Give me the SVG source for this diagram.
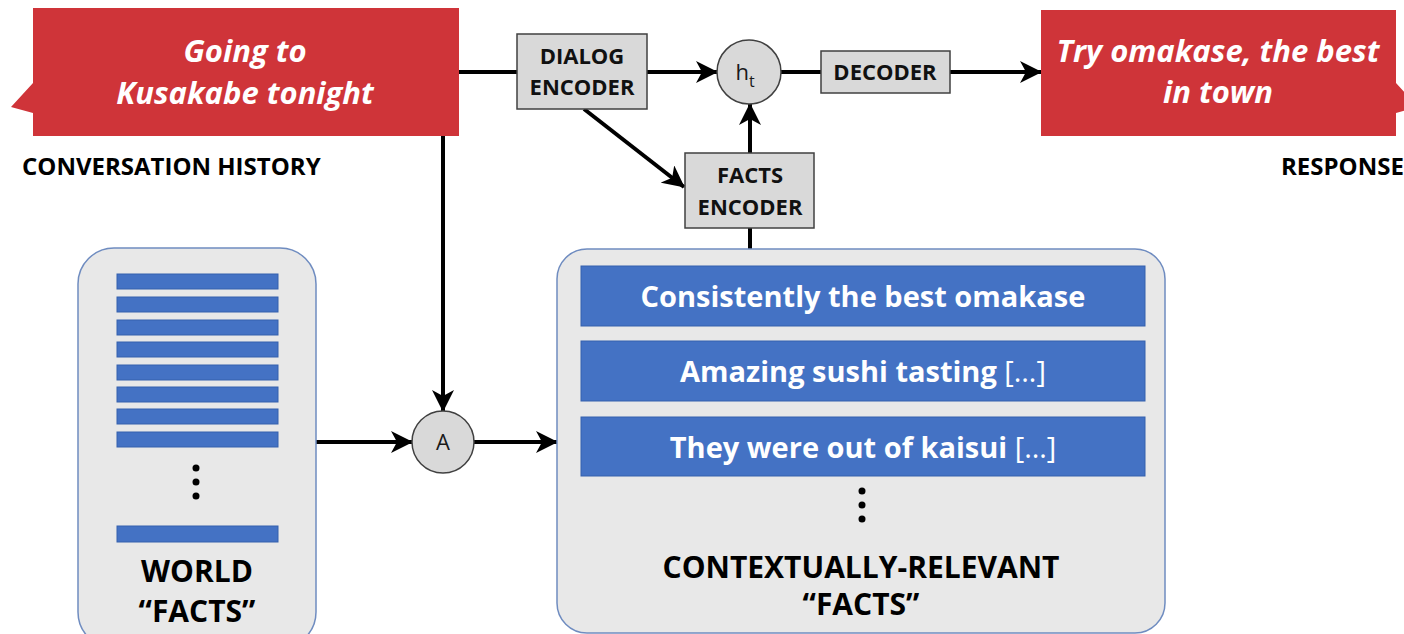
<svg xmlns="http://www.w3.org/2000/svg" width="1404" height="634" viewBox="0 0 1404 634">
  <style>
    .callout { fill: #cf3439; }
    .callout-text { font-family: "Open Sans", Lato, sans-serif; font-weight: bold; font-style: italic; font-size: 31px; fill: #ffffff; text-anchor: middle; }
    .caption { font-family: "Open Sans", Lato, sans-serif; font-weight: bold; font-size: 24px; fill: #000000; }
    .block { fill: #d9d9d9; stroke: #404040; stroke-width: 1.5; }
    .block-text { font-family: "Open Sans", Lato, sans-serif; font-weight: bold; font-size: 22px; fill: #111111; text-anchor: middle; }
    .op { fill: #d9d9d9; stroke: #404040; stroke-width: 1.5; }
    .op-text { font-family: "Open Sans", Lato, sans-serif; font-size: 22px; fill: #1a1a1a; text-anchor: middle; }
    .panel { fill: #e8e8e8; stroke: #6f8cc0; stroke-width: 1.5; }
    .bar { fill: #4472c4; stroke: #3560ad; stroke-width: 1; }
    .fact-text { font-family: "Open Sans", Lato, sans-serif; font-weight: bold; font-size: 29px; fill: #ffffff; text-anchor: middle; }
    .fact-text tspan.thin { font-weight: normal; }
    .panel-title { font-family: "Open Sans", Lato, sans-serif; font-weight: bold; font-size: 30px; fill: #000000; text-anchor: middle; }
    .dot { fill: #000000; }
    .link { stroke: #000000; stroke-width: 4; fill: none; }
    .arrow { marker-end: url(#head); }
  </style>
  <defs>
    <marker id="head" viewBox="0 0 22 22" markerWidth="22" markerHeight="22" refX="21" refY="11" orient="auto" markerUnits="userSpaceOnUse">
      <path d="M0,0 L22,11 L0,22 L6,11 Z" fill="#000000"/>
    </marker>
  </defs>

  <!-- connectors -->
  <g id="connectors">
    <line class="link" x1="459" y1="72" x2="517" y2="72"/>
    <line class="link arrow" x1="647" y1="72" x2="717" y2="72"/>
    <line class="link" x1="781" y1="72" x2="821" y2="72"/>
    <line class="link arrow" x1="950" y1="72" x2="1041" y2="72"/>
    <line class="link arrow" x1="584" y1="109" x2="684" y2="187"/>
    <line class="link arrow" x1="750" y1="153" x2="750" y2="104"/>
    <line class="link" x1="750" y1="249" x2="750" y2="228"/>
    <line class="link arrow" x1="443" y1="136" x2="443" y2="411"/>
    <line class="link arrow" x1="316" y1="442" x2="412" y2="442"/>
    <line class="link arrow" x1="474" y1="442" x2="557" y2="442"/>
  </g>

  <!-- conversation history callout -->
  <g id="history">
    <path class="callout" d="M33,8 H459 V136 H33 V113 L11,107 L33,83 Z"/>
    <text class="callout-text" x="245" y="62">Going to</text>
    <text class="callout-text" x="245" y="104">Kusakabe tonight</text>
    <text class="caption" x="22" y="175">CONVERSATION HISTORY</text>
  </g>

  <!-- response callout -->
  <g id="response">
    <path class="callout" d="M1041,10 H1396 V83 L1418,107 L1396,113 V136 H1041 Z"/>
    <text class="callout-text" x="1218" y="62">Try omakase, the best</text>
    <text class="callout-text" x="1218" y="103">in town</text>
    <text class="caption" x="1281" y="175">RESPONSE</text>
  </g>

  <!-- dialog encoder -->
  <g id="dialog-encoder">
    <rect class="block" x="517" y="34" width="130" height="75"/>
    <text class="block-text" x="582" y="64">DIALOG</text>
    <text class="block-text" x="582" y="95">ENCODER</text>
  </g>

  <!-- hidden state -->
  <g id="hidden-state">
    <circle class="op" cx="749" cy="72" r="32"/>
    <text class="op-text" x="745" y="80">h<tspan font-size="16" dy="7">t</tspan></text>
  </g>

  <!-- decoder -->
  <g id="decoder">
    <rect class="block" x="821" y="51" width="129" height="42"/>
    <text class="block-text" x="885" y="80">DECODER</text>
  </g>

  <!-- facts encoder -->
  <g id="facts-encoder">
    <rect class="block" x="685" y="153" width="129" height="75"/>
    <text class="block-text" x="750" y="183">FACTS</text>
    <text class="block-text" x="750" y="215">ENCODER</text>
  </g>

  <!-- attention -->
  <g id="attention">
    <circle class="op" cx="443" cy="442" r="31"/>
    <text class="op-text" x="443" y="450">A</text>
  </g>

  <!-- world facts -->
  <g id="world-facts">
    <rect class="panel" x="78" y="248" width="238" height="400" rx="36" ry="36"/>
    <rect class="bar" x="117" y="274" width="161" height="15"/>
    <rect class="bar" x="117" y="297" width="161" height="15"/>
    <rect class="bar" x="117" y="320" width="161" height="15"/>
    <rect class="bar" x="117" y="342" width="161" height="15"/>
    <rect class="bar" x="117" y="365" width="161" height="15"/>
    <rect class="bar" x="117" y="387" width="161" height="15"/>
    <rect class="bar" x="117" y="409" width="161" height="15"/>
    <rect class="bar" x="117" y="432" width="161" height="15"/>
    <circle class="dot" cx="196" cy="468" r="3.5"/>
    <circle class="dot" cx="196" cy="482" r="3.5"/>
    <circle class="dot" cx="196" cy="496" r="3.5"/>
    <rect class="bar" x="117" y="526" width="161" height="16"/>
    <text class="panel-title" x="197" y="582">WORLD</text>
    <text class="panel-title" x="197" y="622">“FACTS”</text>
  </g>

  <!-- contextually relevant facts -->
  <g id="relevant-facts">
    <rect class="panel" x="557" y="249" width="608" height="384" rx="30" ry="30"/>
    <rect class="bar" x="581" y="266" width="564" height="60"/>
    <text class="fact-text" x="863" y="307">Consistently the best omakase</text>
    <rect class="bar" x="581" y="341" width="564" height="60"/>
    <text class="fact-text" x="863" y="382">Amazing sushi tasting <tspan class="thin">[…]</tspan></text>
    <rect class="bar" x="581" y="417" width="564" height="59"/>
    <text class="fact-text" x="863" y="458">They were out of kaisui <tspan class="thin">[…]</tspan></text>
    <circle class="dot" cx="862" cy="491" r="3.5"/>
    <circle class="dot" cx="862" cy="505" r="3.5"/>
    <circle class="dot" cx="862" cy="519" r="3.5"/>
    <text class="panel-title" x="861" y="578">CONTEXTUALLY-RELEVANT</text>
    <text class="panel-title" x="861" y="615">“FACTS”</text>
  </g>
</svg>
